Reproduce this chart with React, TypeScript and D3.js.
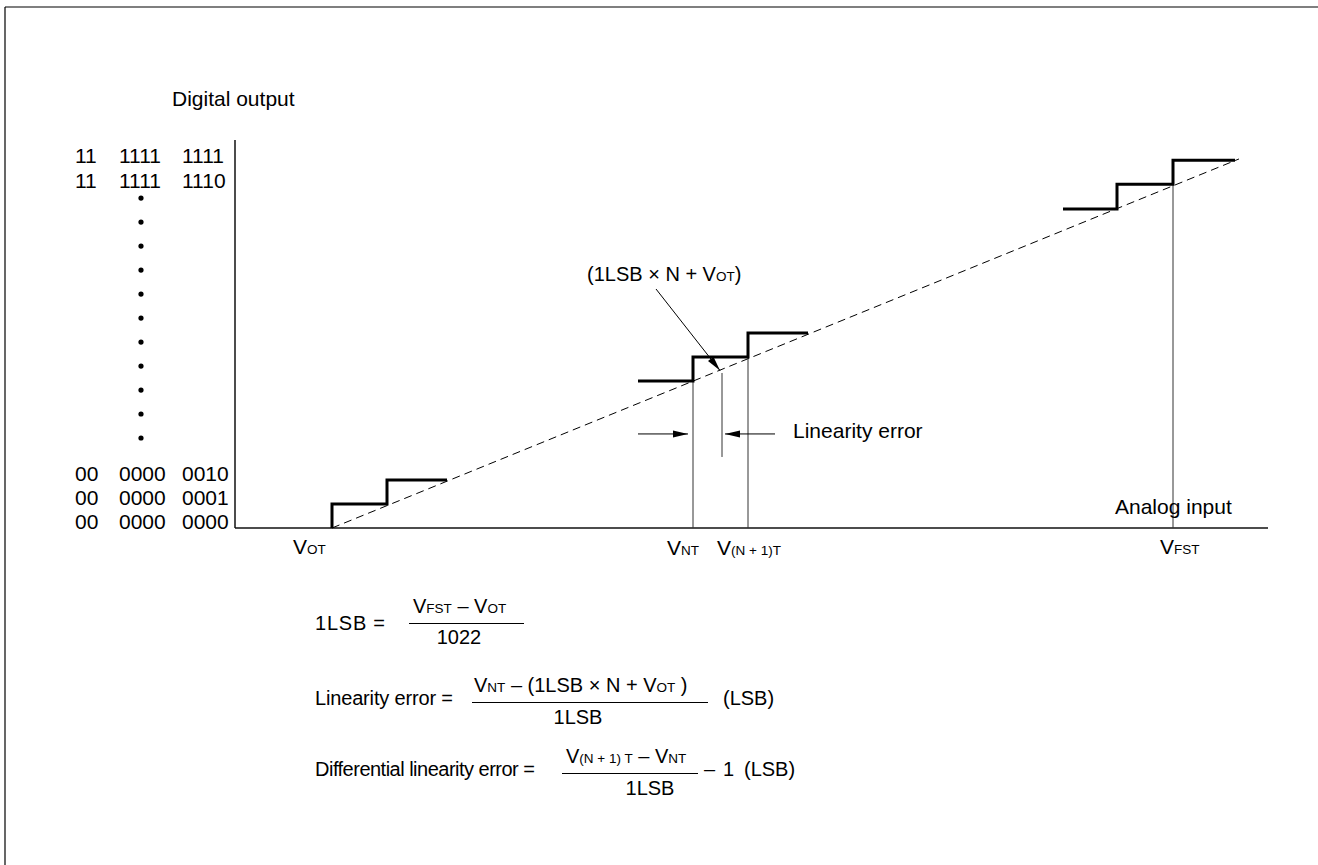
import React from "react";
import * as d3 from "d3";

// ---- data (analog input units along x, output code units along y) ----
const codeHi = ["11", "11", "00", "00", "00"];
const codeMid = ["1111", "1111", "0000", "0000", "0000"];
const codeLo = ["1111", "1110", "0010", "0001", "0000"];
const codeRowLevel = [15.25, 14.2, 2.02, 1.0, 0.0];
const ellipsisLevels = [3.75, 4.75, 5.75, 6.75, 7.75, 8.75, 9.75, 10.75, 11.75, 12.75, 13.75];

const stepsLow = [
  { x: 97, y: 0 }, { x: 97, y: 1 }, { x: 152, y: 1 }, { x: 152, y: 2 }, { x: 212, y: 2 },
];
const stepsMid = [
  { x: 403, y: 6.125 }, { x: 458, y: 6.125 }, { x: 458, y: 7.125 },
  { x: 513, y: 7.125 }, { x: 513, y: 8.125 }, { x: 573, y: 8.125 },
];
const stepsHigh = [
  { x: 828, y: 13.29 }, { x: 882, y: 13.29 }, { x: 882, y: 14.33 },
  { x: 938, y: 14.33 }, { x: 938, y: 15.33 }, { x: 1000, y: 15.33 },
];
const idealLine = [{ x: 97, y: 0 }, { x: 1004, y: 15.38 }];
const guideLines = [
  { x: 458, y0: 0, y1: 6.125 },
  { x: 513, y0: 0, y1: 7.125 },
  { x: 938, y0: 0, y1: 14.33 },
  { x: 487, y0: 2.96, y1: 6.46 },
];
const errorArrows = [
  { from: 403, to: 453, y: 3.92 },
  { from: 540, to: 490, y: 3.92 },
];
const leader = { x0: 421, y0: 9.96, x1: 485, y1: 6.56 };
const xDomain = [0, 1033];
const yDomain = [0, 16.17];

const FONT = "'Liberation Sans', Arial, Helvetica, sans-serif";
const FS = 21;
const EQ = 20;
const SUB = 13.5;

export default function App() {
  const x = d3.scaleLinear().domain(xDomain).range([235, 1268]);
  const y = d3.scaleLinear().domain(yDomain).range([528, 140]);
  const line = d3.line<{ x: number; y: number }>().x((d) => x(d.x)).y((d) => y(d.y));

  const arrowHead = (x1: number, y1: number, x2: number, y2: number, len = 15, hw = 3.5) => {
    const a = Math.atan2(y2 - y1, x2 - x1);
    const bx = x2 - len * Math.cos(a);
    const by = y2 - len * Math.sin(a);
    const px = -Math.sin(a) * hw;
    const py = Math.cos(a) * hw;
    return `M${x2},${y2}L${bx + px},${by + py}L${bx - px},${by - py}Z`;
  };

  const Sub = ({ children }: { children: React.ReactNode }) => (
    <tspan fontSize={SUB}>{children}</tspan>
  );

  return (
    <svg
      width={1318}
      height={865}
      style={{ position: "absolute", left: 0, top: 0, display: "block", background: "#fff" }}
      fontFamily={FONT}
      fontSize={FS}
    >
      {/* frame */}
      <line x1={5} y1={7} x2={1318} y2={7} stroke="#000" strokeWidth={1.2} />
      <line x1={5} y1={7} x2={5} y2={865} stroke="#000" strokeWidth={1.2} />

      <text x={172} y={106}>Digital output</text>

      {codeRowLevel.map((lv, i) => (
        <g key={i}>
          <text x={75} y={y(lv) + 1}>{codeHi[i]}</text>
          <text x={119} y={y(lv) + 1}>{codeMid[i]}</text>
          <text x={182} y={y(lv) + 1}>{codeLo[i]}</text>
        </g>
      ))}
      {ellipsisLevels.map((lv, i) => (
        <circle key={i} cx={141} cy={y(lv)} r={2.6} fill="#000" />
      ))}

      {/* axes */}
      <line x1={x(0)} y1={y(0)} x2={x(0)} y2={y(yDomain[1])} stroke="#111" strokeWidth={1.5} />
      <line x1={x(0)} y1={y(0)} x2={x(xDomain[1])} y2={y(0)} stroke="#111" strokeWidth={1.5} />

      {/* ideal dashed line */}
      <path d={line(idealLine) || ""} fill="none" stroke="#000" strokeWidth={1} strokeDasharray="8,5" />

      {/* guide lines */}
      {guideLines.map((g, i) => (
        <line key={i} x1={x(g.x)} x2={x(g.x)} y1={y(g.y0)} y2={y(g.y1)} stroke="#333" strokeWidth={1} />
      ))}

      {/* staircases */}
      {[stepsLow, stepsMid, stepsHigh].map((s, i) => (
        <path key={i} d={line(s) || ""} fill="none" stroke="#000" strokeWidth={3} strokeLinejoin="miter" />
      ))}

      {/* linearity error arrows */}
      {errorArrows.map((a, i) => (
        <g key={i}>
          <line x1={x(a.from)} x2={x(a.to)} y1={y(a.y)} y2={y(a.y)} stroke="#000" strokeWidth={1} />
          <path d={arrowHead(x(a.from), y(a.y), x(a.to), y(a.y))} fill="#000" />
        </g>
      ))}
      <text x={793} y={438}>Linearity error</text>

      {/* leader */}
      <line x1={x(leader.x0)} y1={y(leader.y0)} x2={x(leader.x1)} y2={y(leader.y1)} stroke="#000" strokeWidth={1} />
      <path d={arrowHead(x(leader.x0), y(leader.y0), x(leader.x1), y(leader.y1))} fill="#000" />
      <text x={587} y={281} fontSize={20}>(1LSB × N + V<Sub>OT</Sub>)</text>

      <text x={1115} y={514}>Analog input</text>

      {/* x labels */}
      <text x={293} y={554}>V<Sub>OT</Sub></text>
      <text x={667} y={555}>V<Sub>NT</Sub></text>
      <text x={717} y={555}>V<Sub>(N + 1)T</Sub></text>
      <text x={1160} y={554}>V<Sub>FST</Sub></text>

      {/* equations */}
      <g fontSize={EQ}>
        <text x={315} y={630} textLength={70} lengthAdjust="spacing">1LSB =</text>
        <text x={413} y={613}>V<Sub>FST</Sub> – V<Sub>OT</Sub></text>
        <line x1={409} x2={524} y1={623.5} y2={623.5} stroke="#000" strokeWidth={1} />
        <text x={459} y={644} textAnchor="middle">1022</text>

        <text x={315} y={705} textLength={138} lengthAdjust="spacing">Linearity error =</text>
        <text x={474} y={692}>V<Sub>NT</Sub> – (1LSB × N + V<Sub>OT</Sub> )</text>
        <line x1={472} x2={708} y1={702.5} y2={702.5} stroke="#000" strokeWidth={1} />
        <text x={578} y={724} textAnchor="middle">1LSB</text>
        <text x={723} y={705}>(LSB)</text>

        <text x={315} y={776} textLength={220} lengthAdjust="spacing">Differential linearity error =</text>
        <text x={566} y={763}>V<Sub>(N + 1) T</Sub> – V<Sub>NT</Sub></text>
        <line x1={562} x2={698} y1={773.5} y2={773.5} stroke="#000" strokeWidth={1} />
        <text x={650} y={795} textAnchor="middle">1LSB</text>
        <text x={704} y={776}>–</text>
        <text x={723} y={776}>1</text>
        <text x={744} y={776}>(LSB)</text>
      </g>
    </svg>
  );
}
